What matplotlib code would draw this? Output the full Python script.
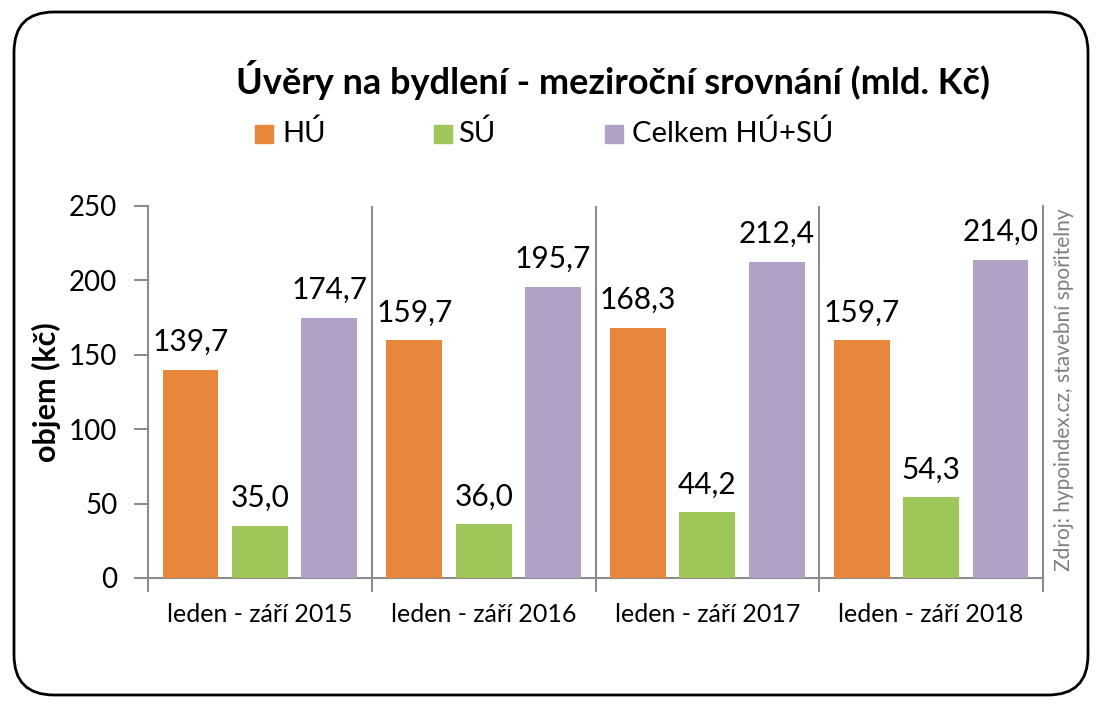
import matplotlib
matplotlib.use("Agg")
import matplotlib.pyplot as plt
from matplotlib.patches import FancyBboxPatch, Rectangle
import numpy as np

categories = ["leden - září 2015", "leden - září 2016", "leden - září 2017", "leden - září 2018"]
series_names = ["HÚ", "SÚ", "Celkem HÚ+SÚ"]
hu = [139.7, 159.7, 168.3, 159.7]
su = [35.0, 36.0, 44.2, 54.3]
celkem = [174.7, 195.7, 212.4, 214.0]
colors = ["#E8873B", "#9EC659", "#B0A2C6"]
yticks = [0, 50, 100, 150, 200, 250]

plt.rcParams['font.family'] = ['Lato', 'DejaVu Sans']

fig = plt.figure(figsize=(11.02, 7.14), dpi=100)
ax = fig.add_axes([148/1102, 1-578/714, (1043-148)/1102, (578-206)/714])

x = np.arange(len(categories)) + 0.5
offsets = [-0.31, 0.0, 0.31]
width = 0.25
gray = "#8C8C8C"
for vals, off, col in zip([hu, su, celkem], offsets, colors):
    bars = ax.bar(x + off, vals, width=width, color=col, zorder=3)
    for b, v in zip(bars, vals):
        ax.annotate(f"{v:.1f}".replace(".", ","), (b.get_x() + b.get_width()/2, v),
                    xytext=(0, 10), textcoords="offset points",
                    ha="center", va="bottom", fontsize=21.5, color="black")

ax.set_xlim(0, len(categories))
ax.set_ylim(0, 250)
ax.set_yticks(yticks)
ax.set_yticklabels([str(t) for t in yticks], fontsize=20)
ax.set_xticks(np.arange(len(categories) + 1))
ax.set_xticklabels([])
ax.set_xticks(x, minor=True)
ax.set_xticklabels(categories, minor=True, fontsize=18)
ax.tick_params(axis="x", which="minor", length=0, pad=18)
ax.tick_params(axis="x", which="major", length=10, color=gray, width=1.5, direction="out")
ax.tick_params(axis="y", length=10, color=gray, width=1.5, direction="out", pad=12)
for s in ["left", "bottom", "right"]:
    ax.spines[s].set_color(gray)
    ax.spines[s].set_linewidth(1.5)
ax.spines["top"].set_visible(False)
for g in range(1, len(categories)):
    ax.axvline(g, color=gray, lw=1.5, zorder=2)

ax.set_ylabel("objem (kč)", fontsize=22, fontweight="bold", labelpad=6)

fig.text(0.556, 0.888, "Úvěry na bydlení - meziroční srovnání (mld. Kč)",
         ha="center", va="center", fontsize=26, fontweight="bold")

# legend
leg_items = [(255, 282), (434, 458), (605, 632)]
for (mx, tx), name, col in zip(leg_items, series_names, colors):
    fig.patches.append(Rectangle((mx/1102, 1-143/714), 18/1102, 18/714,
                                 transform=fig.transFigure, color=col, figure=fig))
    fig.text(tx/1102, 1-133/714, name, ha="left", va="center", fontsize=21)

fig.text(1064/1102, 1-390/714, "Zdroj: hypoindex.cz, stavební spořitelny",
         rotation=90, ha="center", va="center", fontsize=15, color="#7F7F7F")

border = FancyBboxPatch((0.14, 0.19), 10.74, 6.83,
                        boxstyle="round,pad=0,rounding_size=0.4",
                        transform=fig.dpi_scale_trans, fill=False,
                        edgecolor="black", linewidth=2)
fig.patches.append(border)

fig.savefig("out.png", dpi=100)
